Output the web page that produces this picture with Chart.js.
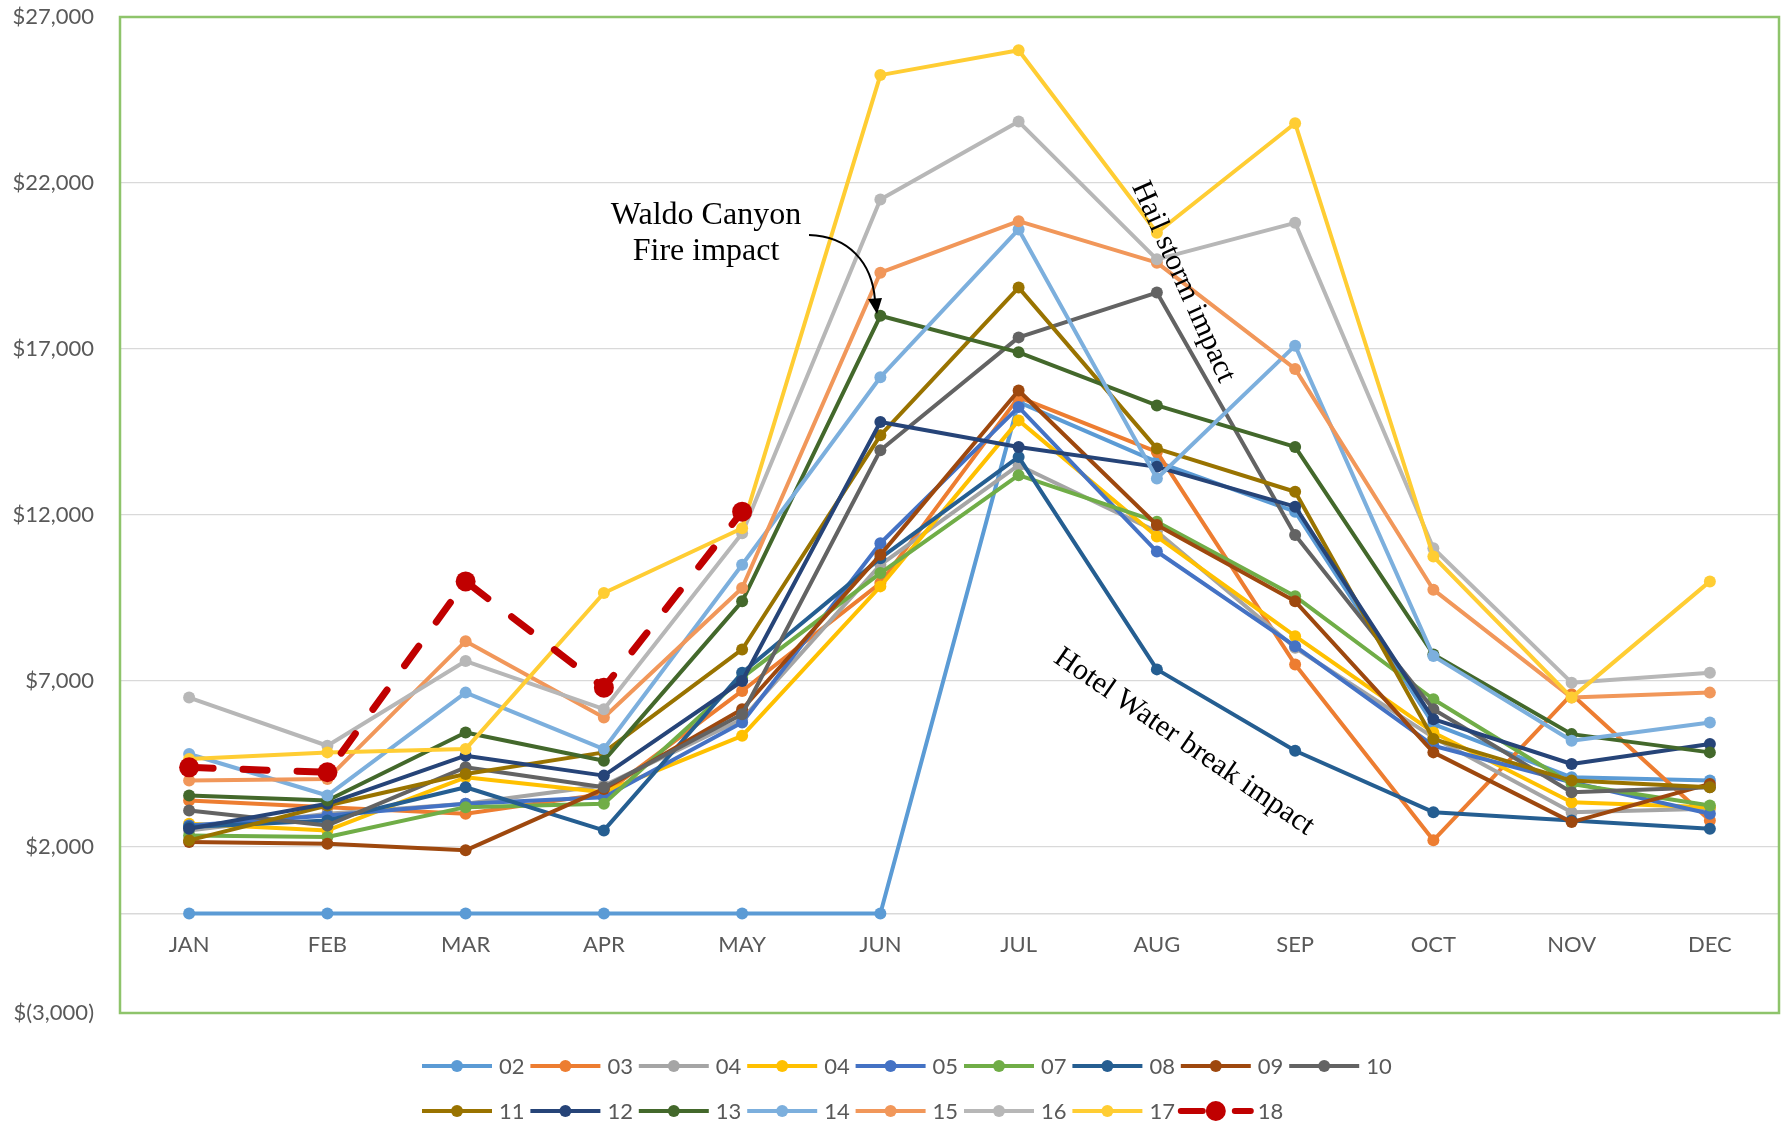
<!DOCTYPE html>
<html>
<head>
<meta charset="utf-8">
<title>Monthly revenue by year</title>
<script src="https://cdn.jsdelivr.net/npm/chart.js@4.4.1/dist/chart.umd.min.js"></script>
<style>
  html, body { margin: 0; padding: 0; background: #ffffff; }
  #wrap { width: 1781px; height: 1125px; }
</style>
</head>
<body>
<div id="wrap"><canvas id="chart" width="1781" height="1125"></canvas></div>
<script>
// Month categories on the horizontal axis
const months = ['JAN','FEB','MAR','APR','MAY','JUN','JUL','AUG','SEP','OCT','NOV','DEC'];

// Value-axis ticks
const yTickMin = -3000;
const yTickMax = 27000;
const yTickStep = 5000;

// Series labels (as shown in the legend)
const seriesLabels = ['02','03','04','04','05','07','08','09','10','11','12','13','14','15','16','17','18'];

// Monthly values per year
const sales02  = [0, 0, 0, 0, 0, 0, 15400, 13600, 12100, 5700, 4100, 4000];
const sales03  = [3400, 3200, 3000, 3600, 6700, 9950, 15550, 13900, 7500, 2200, 6600, 2800];
const sales04a = [2500, 3000, 3300, 3850, 5850, 10500, 13500, 11500, 8000, 5300, 3050, 3150];
const sales04b = [2700, 2500, 4100, 3650, 5350, 9850, 14850, 11350, 8350, 5450, 3350, 3200];
const sales05  = [2650, 2950, 3300, 3500, 5750, 11150, 15250, 10900, 8050, 5050, 3950, 3000];
const sales07  = [2350, 2300, 3200, 3300, 7100, 10250, 13200, 11800, 9550, 6450, 3900, 3250];
const sales08  = [2600, 2800, 3800, 2500, 7250, 10700, 13750, 7350, 4900, 3050, 2800, 2550];
const sales09  = [2150, 2100, 1900, 3750, 6150, 10800, 15750, 11700, 9400, 4850, 2750, 3900];
const sales10  = [3100, 2650, 4400, 3800, 6000, 13950, 17350, 18700, 11400, 6150, 3650, 3800];
const sales11  = [2200, 3250, 4200, 4850, 7950, 14400, 18850, 14000, 12700, 5250, 4000, 3800];
const sales12  = [2550, 3300, 4750, 4150, 7000, 14800, 14050, 13450, 12250, 5850, 4500, 5100];
const sales13  = [3550, 3400, 5450, 4600, 9400, 18000, 16900, 15300, 14050, 7800, 5400, 4850];
const sales14  = [4800, 3550, 6650, 4950, 10500, 16150, 20600, 13100, 17100, 7750, 5200, 5750];
const sales15  = [4000, 4050, 8200, 5900, 9800, 19300, 20850, 19600, 16400, 9750, 6500, 6650];
const sales16  = [6500, 5050, 7600, 6150, 11450, 21500, 23850, 19700, 20800, 11000, 6950, 7250];
const sales17  = [4650, 4850, 4950, 9650, 11600, 25250, 26000, 20500, 23800, 10750, 6500, 10000];
const sales18  = [4400, 4250, 10000, 6800, 12100];

const seriesValues = [sales02, sales03, sales04a, sales04b, sales05, sales07, sales08, sales09,
  sales10, sales11, sales12, sales13, sales14, sales15, sales16, sales17, sales18];

const seriesColors = ['#5B9BD5','#ED7D31','#A5A5A5','#FFC000','#4472C4','#70AD47','#255E91','#9E480E',
  '#636363','#997300','#264478','#43682B','#7CAFDD','#F1975A','#B7B7B7','#FFCD33','#C00000'];

const textGrey = '#595959';
const gridGrey = '#D9D9D9';
const tickFont = { family: 'Lato', size: 22 };

function formatDollars(v) {
  const s = Math.abs(v).toLocaleString('en-US');
  return v < 0 ? '$(' + s + ')' : '$' + s;
}

const datasets = seriesValues.map((vals, i) => {
  const current = i === seriesValues.length - 1;
  return {
    label: seriesLabels[i],
    data: vals,
    borderColor: seriesColors[i],
    backgroundColor: seriesColors[i],
    pointBackgroundColor: seriesColors[i],
    pointBorderColor: seriesColors[i],
    pointBorderWidth: 0,
    pointRadius: current ? 10 : 6,
    borderWidth: current ? 7 : 4,
    borderDash: current ? [24, 30] : [],
    borderCapStyle: current ? 'round' : 'butt',
    borderJoinStyle: 'round',
    tension: 0,
    fill: false,
    order: seriesValues.length - i
  };
});

// Green frame around the plot area
const plotFrame = {
  id: 'plotFrame',
  beforeDatasetsDraw(chart) {
    const { ctx, chartArea: a } = chart;
    ctx.save();
    ctx.strokeStyle = '#8EC46B';
    ctx.lineWidth = 2.5;
    ctx.strokeRect(a.left, a.top, a.right - a.left, a.bottom - a.top);
    ctx.restore();
  }
};

// Event notes drawn over the lines
const eventNotes = {
  id: 'eventNotes',
  afterDatasetsDraw(chart) {
    const { ctx } = chart;
    ctx.save();
    ctx.fillStyle = '#000000';
    ctx.strokeStyle = '#000000';
    ctx.font = '32px "Liberation Serif"';
    ctx.textAlign = 'center';
    ctx.textBaseline = 'alphabetic';
    ctx.fillText('Waldo Canyon', 706, 224);
    ctx.fillText('Fire impact', 706, 260);

    // curved pointer to the June value of 13
    ctx.lineWidth = 2;
    ctx.beginPath();
    ctx.moveTo(809, 235);
    ctx.bezierCurveTo(848, 236, 872, 262, 875, 300);
    ctx.stroke();
    ctx.beginPath();
    ctx.moveTo(877, 314);
    ctx.lineTo(868, 299);
    ctx.lineTo(882, 298);
    ctx.closePath();
    ctx.fill();

    ctx.font = '30px "Liberation Serif"';
    ctx.textBaseline = 'middle';
    ctx.save();
    ctx.translate(1183, 282);
    ctx.rotate(66 * Math.PI / 180);
    ctx.fillText('Hail storm impact', 0, 0);
    ctx.restore();

    ctx.save();
    ctx.translate(1184, 742);
    ctx.rotate(34.5 * Math.PI / 180);
    ctx.fillText('Hotel Water break impact', 0, 0);
    ctx.restore();
    ctx.restore();
  }
};

// Legend laid out as a grid of line-and-marker samples
const gridLegend = {
  id: 'gridLegend',
  afterDraw(chart) {
    const { ctx } = chart;
    const perRow = 9, colW = 108.4, startX = 422, rowY = [1066, 1111], sampleW = 70;
    ctx.save();
    chart.data.datasets.forEach((ds, i) => {
      const row = Math.floor(i / perRow), col = i % perRow;
      const x0 = startX + col * colW, y = rowY[row];
      const dashed = ds.borderDash.length > 0;
      ctx.strokeStyle = ds.borderColor;
      ctx.lineWidth = dashed ? 6 : 4;
      ctx.lineCap = dashed ? 'round' : 'butt';
      ctx.setLineDash(dashed ? [22, 32] : []);
      ctx.beginPath();
      ctx.moveTo(x0, y);
      ctx.lineTo(x0 + sampleW, y);
      ctx.stroke();
      ctx.setLineDash([]);
      ctx.fillStyle = ds.pointBackgroundColor;
      ctx.beginPath();
      ctx.arc(x0 + (dashed ? 35 : sampleW / 2), y, dashed ? 10 : 6, 0, Math.PI * 2);
      ctx.fill();
      ctx.fillStyle = textGrey;
      ctx.font = '22px Lato';
      ctx.textAlign = 'left';
      ctx.textBaseline = 'middle';
      ctx.fillText(ds.label, x0 + 77, y + 1);
    });
    ctx.restore();
  }
};

new Chart(document.getElementById('chart'), {
  type: 'line',
  data: { labels: months, datasets },
  options: {
    responsive: false,
    animation: false,
    devicePixelRatio: 1,
    layout: { autoPadding: false, padding: { left: 0, top: 17, right: 2, bottom: 112 } },
    plugins: {
      legend: { display: false },
      tooltip: { enabled: false }
    },
    scales: {
      x: {
        position: { y: 0 },
        offset: true,
        grid: { display: false, drawTicks: false },
        border: { display: true, color: gridGrey, width: 1.5 },
        ticks: { font: tickFont, color: textGrey, padding: 18, maxRotation: 0 },
        afterFit(scale) { scale.paddingLeft = 0; scale.paddingRight = 0; scale.height = 0; }
      },
      y: {
        min: yTickMin,
        max: yTickMax,
        ticks: { stepSize: yTickStep, font: tickFont, color: textGrey, padding: 26, callback: formatDollars },
        grid: { color: gridGrey, lineWidth: 1.3, drawTicks: false },
        border: { display: false },
        afterFit(scale) { scale.width = 120; scale.paddingTop = 0; scale.paddingBottom = 0; }
      }
    }
  },
  plugins: [plotFrame, eventNotes, gridLegend]
});
</script>
</body>
</html>
